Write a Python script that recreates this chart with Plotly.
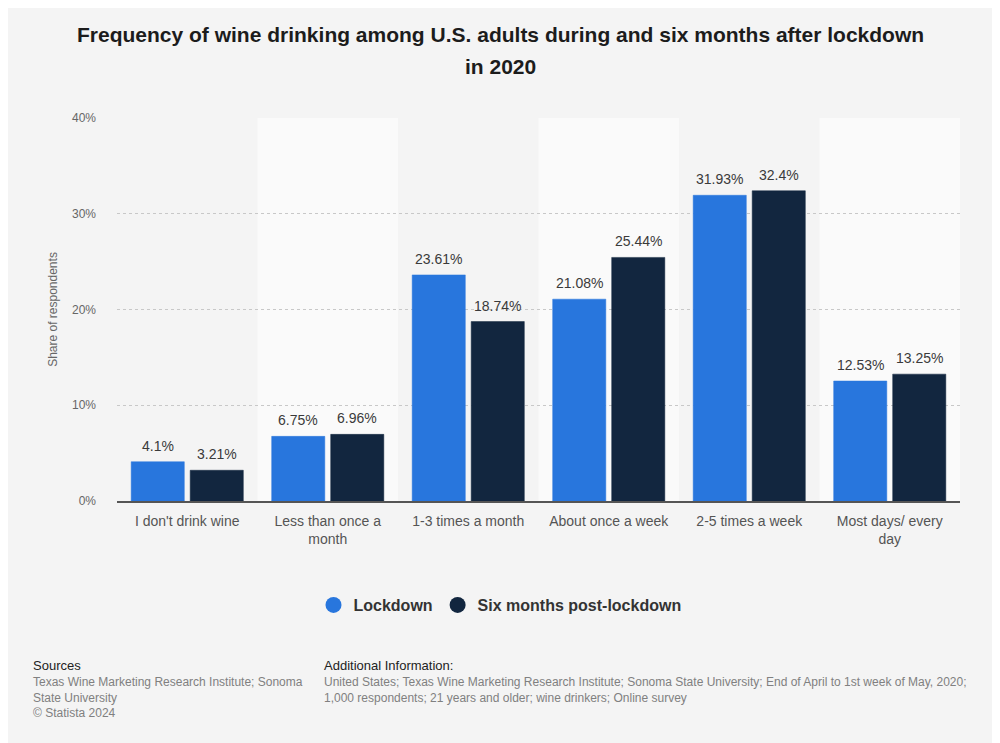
import plotly.graph_objects as go

categories = ["I don't drink wine", "Less than once a<br>month", "1-3 times a month",
              "About once a week", "2-5 times a week", "Most days/ every<br>day"]
lockdown = [4.1, 6.75, 23.61, 21.08, 31.93, 12.53]
post_lockdown = [3.21, 6.96, 18.74, 25.44, 32.4, 13.25]
series_names = ["Lockdown", "Six months post-lockdown"]
colors = ["#2876dd", "#12263f"]
y_ticks = [0, 10, 20, 30, 40]

# page body has an 8px margin -> compensate
OFF = 8
L, T = 117 - OFF, 118 - OFF
PW, PH = 843.0, 383.0
R = 1000 - L - int(PW)
B = 743 - T - int(PH)

def px(sx):
    return (sx - OFF - L) / PW

def py(sy):
    return (501 - sy) / PH

fig = go.Figure()
for name, vals, col in zip(series_names, [lockdown, post_lockdown], colors):
    fig.add_trace(go.Bar(
        x=categories, y=vals, name=name, showlegend=False,
        marker=dict(color=col, line=dict(color=col, width=0.5)),
    ))
    fig.add_trace(go.Scatter(
        x=[None], y=[None], mode="markers", name=name,
        marker=dict(symbol="circle", size=17, color=col),
    ))

shapes = []
for i in range(len(categories)):
    if i % 2 == 1:
        shapes.append(dict(type="rect", xref="x", yref="y", x0=i - 0.5, x1=i + 0.5,
                           y0=0, y1=40, fillcolor="#fafafa", line=dict(width=0), layer="below"))

annotations = []
# value labels above bars
for shift, vals in zip([-29.5, 29.5], [lockdown, post_lockdown]):
    for cat, v in zip(categories, vals):
        annotations.append(dict(
            x=cat, y=v, xref="x", yref="y", text=f"{v:g}%", showarrow=False,
            xshift=shift, yshift=16, yanchor="middle", xanchor="center",
            font=dict(size=14, color="#3a3a3a", family="Arial, Liberation Sans"),
        ))

# title lines
title_lines = ["Frequency of wine drinking among U.S. adults during and six months after lockdown",
               "in 2020"]
for line, sy in zip(title_lines, [35, 67]):
    annotations.append(dict(
        text=f"<b>{line}</b>", x=px(500), y=py(sy), xref="paper", yref="paper",
        showarrow=False, xanchor="center", yanchor="middle",
        font=dict(size=21, color="#1c1c1c", family="Arial, Liberation Sans"),
    ))

def footer(text, sx, sy, size, color):
    return dict(text=text, x=px(sx), y=py(sy), xref="paper", yref="paper",
                showarrow=False, xanchor="left", yanchor="top", align="left",
                font=dict(size=size, color=color, family="Arial, Liberation Sans"))

annotations += [
    footer("Sources", 31, 656, 13, "#222222"),
    footer("Texas Wine Marketing Research Institute; Sonoma<br>State University<br>© Statista 2024",
           31, 673, 12, "#808080"),
    footer("Additional Information:", 322, 656, 13, "#222222"),
    footer("United States; Texas Wine Marketing Research Institute; Sonoma State University; End of April to 1st week of May, 2020;<br>1,000 respondents; 21 years and older; wine drinkers; Online survey",
           322, 673, 12, "#808080"),
]

fig.update_layout(
    width=1000, height=743,
    paper_bgcolor="#f4f4f4", plot_bgcolor="#f4f4f4",
    margin=dict(l=L, r=R, t=T, b=B, autoexpand=False),
    font=dict(family="Arial, Liberation Sans, sans-serif"),
    barmode="group", bargap=0.16, bargroupgap=0.1,
    showlegend=True,
    legend=dict(orientation="h", x=px(500), xanchor="center",
                y=py(605), yanchor="middle",
                font=dict(size=16, color="#333333", family="Arial, Liberation Sans", weight="bold"),
                bgcolor="rgba(0,0,0,0)", itemwidth=30),
    shapes=shapes,
    annotations=annotations,
)
fig.update_xaxes(
    showgrid=False, tickfont=dict(size=14, color="#555555"),
    showline=True, linecolor="#555555", linewidth=2, ticks="", ticklabelstandoff=6,
    range=[-0.5, 5.5], automargin=False, tickangle=0,
)
fig.update_yaxes(
    range=[0, 40], tickvals=y_ticks, ticktext=[f"{t}%" for t in y_ticks],
    showgrid=True, gridcolor="#c8c8c8", griddash="dot", gridwidth=1,
    zeroline=False, tickfont=dict(size=12, color="#666666"),
    title=dict(text="Share of respondents", font=dict(size=12, color="#666666"), standoff=11),
    ticklabelstandoff=20, automargin=False,
)

fig.write_html("out.html")
